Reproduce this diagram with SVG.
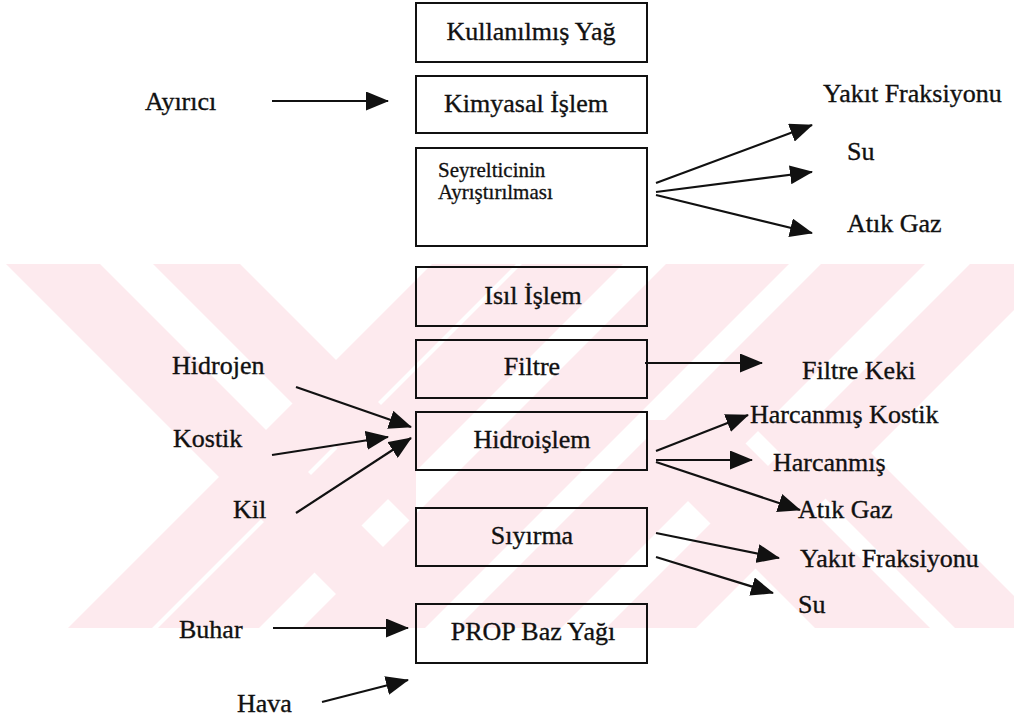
<svg xmlns="http://www.w3.org/2000/svg" width="1014" height="720" viewBox="0 0 1014 720">
  <style>
    .box { fill: none; stroke: #111; stroke-width: 2; }
    .lb { font-size: 26px; fill: #111; stroke: #111; stroke-width: 0.35; }
    .sm { font-size: 21px; fill: #111; stroke: #111; stroke-width: 0.3; }
    .mid { text-anchor: middle; }
    .flow { fill: none; stroke: #111; stroke-width: 2.2; marker-end: url(#ah); }
    .wm { fill: #fdeaee; }
  </style>
  <defs>
    <marker id="ah" viewBox="0 0 23 19" markerWidth="23" markerHeight="19" refX="22" refY="9.5" markerUnits="userSpaceOnUse" orient="auto">
      <path d="M0,0 L23,9.5 L0,19 Z" fill="#111"/>
    </marker>
    <clipPath id="band">
      <rect x="0" y="264" width="1014" height="364"/>
    </clipPath>
    <clipPath id="leftside">
      <rect x="0" y="264" width="416" height="364"/>
    </clipPath>
    <clipPath id="rightlow">
      <rect x="647" y="420" width="367" height="208"/>
    </clipPath>
  </defs>

  <rect width="1014" height="720" fill="#fff"/>

  <!-- pale diagonal background band -->
  <g id="background-band" clip-path="url(#band)">
    <!-- down-right stripes -->
    <g clip-path="url(#leftside)">
      <polygon class="wm" points="6,264 100,264 464,628 370,628"/>
      <polygon class="wm" points="153,264 240,264 604,628 517,628"/>
    </g>
    <g clip-path="url(#rightlow)">
      <polygon class="wm" points="451,264 566,264 930,628 815,628"/>
      <polygon class="wm" points="591,264 682,264 1046,628 955,628"/>
    </g>
    <!-- down-left stripes -->
    <polygon class="wm" points="432,264 516,264 152,628 68,628"/>
    <polygon class="wm" points="522,264 623,264 259,628 158,628"/>
    <polygon class="wm" points="666,264 789,264 425,628 302,628"/>
    <polygon class="wm" points="821,264 925,264 561,628 457,628"/>
    <polygon class="wm" points="970,264 1060,264 696,628 606,628"/>
  </g>

  <g font-family="'Liberation Serif', 'DejaVu Serif', 'Times New Roman', serif">
    <!-- process boxes -->
    <g id="n-kullanilmis">
      <rect class="box" x="416" y="3" width="231" height="59"/>
      <text class="lb mid" x="531" y="40">Kullanılmış Yağ</text>
    </g>
    <g id="n-kimyasal">
      <rect class="box" x="416" y="76" width="231" height="57"/>
      <text class="lb mid" x="526" y="112">Kimyasal İşlem</text>
    </g>
    <g id="n-seyreltici">
      <rect class="box" x="416" y="148" width="231" height="98"/>
      <text class="sm" x="438" y="177">Seyrelticinin</text>
      <text class="sm" x="438" y="199">Ayrıştırılması</text>
    </g>
    <g id="n-isil">
      <rect class="box" x="416" y="267" width="231" height="59"/>
      <text class="lb mid" x="533" y="304">Isıl İşlem</text>
    </g>
    <g id="n-filtre">
      <rect class="box" x="416" y="340" width="231" height="58"/>
      <text class="lb mid" x="532" y="375">Filtre</text>
    </g>
    <g id="n-hidroislem">
      <rect class="box" x="416" y="412" width="231" height="58"/>
      <text class="lb mid" x="532" y="448">Hidroişlem</text>
    </g>
    <g id="n-siyirma">
      <rect class="box" x="416" y="508" width="231" height="58"/>
      <text class="lb mid" x="532" y="544">Sıyırma</text>
    </g>
    <g id="n-prop">
      <rect class="box" x="416" y="604" width="231" height="59"/>
      <text class="lb mid" x="533" y="640">PROP Baz Yağı</text>
    </g>

    <!-- stream labels -->
    <g id="inputs">
      <text class="lb" x="145" y="110">Ayırıcı</text>
      <text class="lb" x="172" y="374">Hidrojen</text>
      <text class="lb" x="173" y="447">Kostik</text>
      <text class="lb" x="233" y="518">Kil</text>
      <text class="lb" x="179" y="638">Buhar</text>
      <text class="lb" x="237" y="712">Hava</text>
    </g>
    <g id="outputs">
      <text class="lb" x="823" y="102">Yakıt Fraksiyonu</text>
      <text class="lb" x="847" y="160">Su</text>
      <text class="lb" x="847" y="232">Atık Gaz</text>
      <text class="lb" x="802" y="379">Filtre Keki</text>
      <text class="lb" x="750" y="423">Harcanmış Kostik</text>
      <text class="lb" x="773" y="471">Harcanmış</text>
      <text class="lb" x="798" y="518">Atık Gaz</text>
      <text class="lb" x="800" y="567">Yakıt Fraksiyonu</text>
      <text class="lb" x="798" y="613">Su</text>
    </g>
  </g>

  <!-- connectors -->
  <g id="connectors">
    <line class="flow" x1="272" y1="101" x2="388" y2="101"/>
    <line class="flow" x1="656" y1="183" x2="812" y2="125"/>
    <line class="flow" x1="656" y1="192" x2="812" y2="172"/>
    <line class="flow" x1="656" y1="195" x2="812" y2="233"/>
    <line class="flow" x1="645" y1="363" x2="762" y2="363"/>
    <line class="flow" x1="296" y1="387" x2="411" y2="427"/>
    <line class="flow" x1="272" y1="455" x2="388" y2="437"/>
    <line class="flow" x1="296" y1="513" x2="411" y2="438"/>
    <line class="flow" x1="656" y1="451" x2="748" y2="415"/>
    <line class="flow" x1="656" y1="460" x2="752" y2="460"/>
    <line class="flow" x1="656" y1="462" x2="800" y2="510"/>
    <line class="flow" x1="656" y1="533" x2="779" y2="558"/>
    <line class="flow" x1="656" y1="557" x2="773" y2="593"/>
    <line class="flow" x1="273" y1="628" x2="408" y2="628"/>
    <line class="flow" x1="322" y1="702" x2="408" y2="680"/>
  </g>
</svg>
